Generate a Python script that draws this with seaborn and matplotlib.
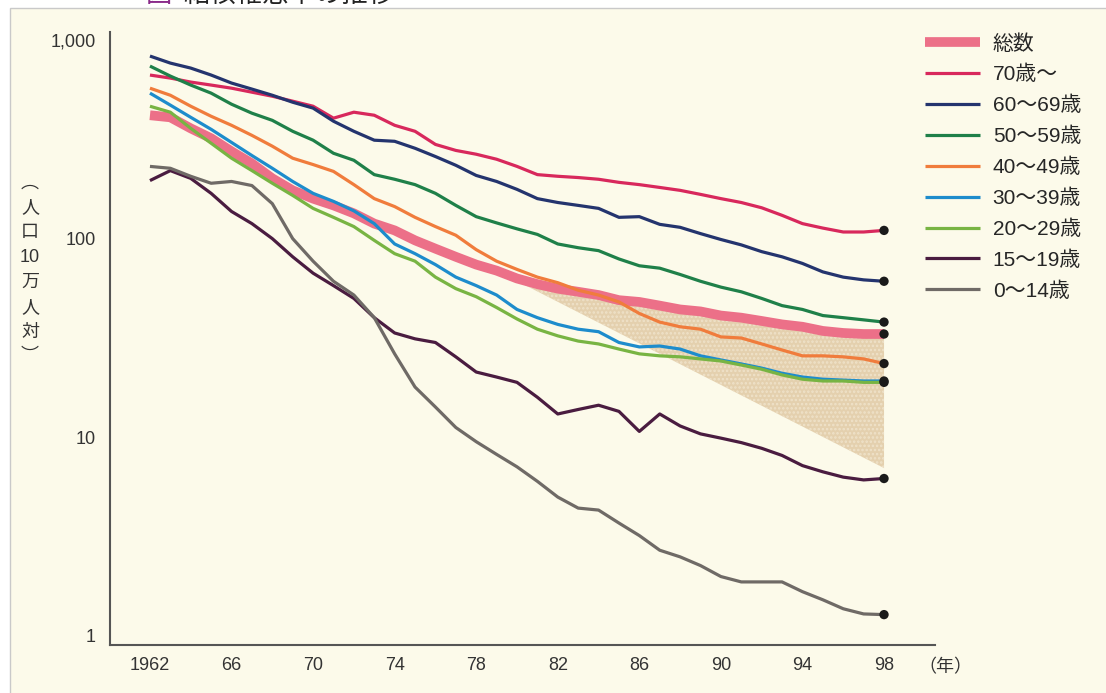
import matplotlib
matplotlib.use("Agg")
import matplotlib.pyplot as plt
import seaborn as sns
from matplotlib.patches import Rectangle
from matplotlib.ticker import NullLocator

# ---------------------------------------------------------------
# data (per 100,000 population)
# ---------------------------------------------------------------
years = list(range(1962, 1999))

total = [418, 408, 359, 320, 275, 239, 201, 175, 159, 147, 134, 119, 110, 98, 89, 81, 74, 69,
         63, 59, 56, 54, 52, 49, 48, 46, 44, 43, 41, 40, 38.5, 37, 36, 34.3, 33.5, 33.1, 33.1]
age70 = [666, 643, 614, 593, 572, 546, 521, 492, 464, 404, 433, 418, 372, 347, 298, 278, 266, 251,
         231, 210, 206, 203, 199, 192, 187, 181, 175, 167, 159, 152, 143, 131, 119, 113, 108, 108, 110]
age60 = [830, 765, 722, 666, 607, 566, 527, 486, 454, 390, 347, 313, 309, 285, 259, 234, 208, 194,
         177, 159, 152, 147, 142, 128, 129, 118, 114, 106, 99, 93, 86, 81, 75, 68, 64, 62, 61]
age50 = [739, 658, 593, 540, 475, 428, 394, 347, 313, 269, 248, 210, 199, 187, 169, 147, 129, 120,
         112, 105, 94, 90, 87, 79, 73, 71, 66, 61, 57, 54, 50, 46, 44, 41, 40, 39, 38]
age40 = [572, 527, 464, 413, 372, 331, 292, 254, 236, 218, 187, 159, 145, 128, 115, 104, 88, 77,
         70, 64, 60, 55, 52, 48, 42, 38, 36, 35, 32, 31.6, 29.5, 27.5, 25.7, 25.7, 25.4, 24.8, 23.5]
age30 = [540, 470, 408, 355, 305, 262, 226, 194, 169, 154, 138, 119, 94, 84, 74, 64, 58, 52,
         44, 40, 37, 35, 34, 30, 28.5, 28.8, 27.8, 25.7, 24.5, 23.4, 22.3, 21.0, 20.1, 19.6, 19.4, 19.2, 19.2]
age20 = [464, 433, 359, 302, 254, 220, 190, 165, 142, 128, 115, 98, 84, 77, 64, 56, 51, 45,
         39.4, 35, 32.4, 30.5, 29.5, 27.8, 26.3, 25.7, 25.4, 24.8, 24.2, 23.1, 22.0, 20.6, 19.6, 19.2, 19.2, 18.9, 18.9]
age15 = [196, 220, 201, 169, 137, 119, 100, 81, 67, 58, 50, 40, 33.5, 31.3, 30, 25.4, 21.3, 20.1,
         18.9, 15.9, 13.1, 13.8, 14.5, 13.5, 10.7, 13.1, 11.4, 10.4, 9.9, 9.4, 8.8, 8.1, 7.2, 6.7, 6.3, 6.1, 6.2]
age0 = [231, 226, 206, 190, 194, 185, 150, 100, 77, 61, 52, 40, 26.3, 17.9, 14.2, 11.2, 9.5, 8.2,
        7.1, 6.0, 5.0, 4.4, 4.3, 3.7, 3.2, 2.7, 2.5, 2.26, 1.99, 1.87, 1.87, 1.87, 1.67, 1.52, 1.37, 1.29, 1.28]

labels = ["総数", "70歳〜", "60〜69歳", "50〜59歳", "40〜49歳",
          "30〜39歳", "20〜29歳", "15〜19歳", "0〜14歳"]
series = [total, age70, age60, age50, age40, age30, age20, age15, age0]
colors = ["#ec7088", "#d8285c", "#24346e", "#1f8049", "#f07c3c",
          "#1d8ccc", "#78b443", "#4a1c40", "#6f6a66"]

# shaded wedge: starts on the total line in 1979, ends at this value in 1998
shade_start = 1979
shade_low = 7.0

xticks = [1962, 1966, 1970, 1974, 1978, 1982, 1986, 1990, 1994, 1998]
xtick_labels = ["1962", "66", "70", "74", "78", "82", "86", "90", "94", "98"]
yticks = [1, 10, 100, 1000]
ytick_labels = ["1", "10", "100", "1,000"]

BG = "#fcfaea"
W, H = 1106, 693

sns.set_style("white")
plt.rcParams["font.family"] = ["Liberation Sans", "Noto Sans CJK JP", "DejaVu Sans"]
plt.rcParams["hatch.linewidth"] = 1.2

fig = plt.figure(figsize=(W / 100, H / 100), dpi=100, facecolor="white")
fig.patches.append(Rectangle((10 / W, -0.01), 1.0, 1.01 - 8 / H, transform=fig.transFigure,
                             facecolor=BG, edgecolor="#c9c9c9", lw=1, zorder=-5))

ax = fig.add_axes([110 / W, 1 - 645 / H, (935 - 110) / W, (645 - 32) / H])
ax.set_facecolor("none")
ax.set_yscale("log")

# shaded wedge (dotted tan)
i0 = years.index(shade_start)
wedge_x = years[i0:] + [years[-1]]
wedge_y = total[i0:] + [shade_low]
ax.fill(wedge_x, wedge_y, facecolor="#e2cca8", edgecolor="none", alpha=0.9, zorder=1)
ax.fill(wedge_x, wedge_y, facecolor="none", edgecolor="#efe2c9", hatch="....", lw=0, zorder=1.5)

# lines (total drawn first, thick, underneath)
for lab, vals, col in zip(labels, series, colors):
    lw = 7 if lab == "総数" else 2.3
    sns.lineplot(x=years, y=vals, ax=ax, color=col, lw=lw, label=lab,
                 solid_capstyle="butt", zorder=3 if lab == "総数" else 4)

# end markers at 1998
sns.scatterplot(x=[years[-1]] * len(series), y=[s[-1] for s in series], ax=ax,
                color="#1a1a1a", s=45, edgecolor="none", zorder=6)

ax.set_xlim(1960.04, 2000.5)
ax.set_ylim(0.90, 1097)
ax.set_xticks(xticks)
ax.set_xticklabels(xtick_labels)
ax.set_yticks(yticks)
ax.set_yticklabels(ytick_labels)
ax.yaxis.set_minor_locator(NullLocator())
ax.tick_params(axis="x", direction="in", length=9, width=1.2, pad=9,
               labelsize=13, colors="#444", labelcolor="#333")
ax.tick_params(axis="y", direction="in", length=4, width=1.2, pad=10,
               labelsize=13, colors="#444", labelcolor="#333")
ax.set_xlabel("")
ax.set_ylabel("")
for side in ["top", "right"]:
    ax.spines[side].set_visible(False)
for side in ["left", "bottom"]:
    ax.spines[side].set_color("#555")
    ax.spines[side].set_linewidth(1.5)

ax.legend(loc="upper left", bbox_to_anchor=(925 / W, 1 - 34 / H), bbox_transform=fig.transFigure,
          frameon=False, fontsize=15, handlelength=2.65, handletextpad=0.6,
          labelspacing=0.55, borderpad=0, borderaxespad=0)

# texts
fig.text(30 / W, 1 - 270 / H, "︵\n人\n口\n10\n万\n人\n対\n︶", ha="center", va="center",
         fontsize=13, linespacing=1.6, color="#333")
fig.text(945 / W, 1 - 668 / H, "（年）", ha="center", va="center", fontsize=13, color="#333")
fig.text(146 / W, 1 + 5 / H, "図", ha="left", va="center", fontsize=19, color="#8a2b8a")
fig.text(183 / W, 1 + 5 / H, "結核罹患率の推移", ha="left", va="center", fontsize=19, color="#222")

fig.savefig("out.png", dpi=100, facecolor=fig.get_facecolor())
plt.close(fig)
